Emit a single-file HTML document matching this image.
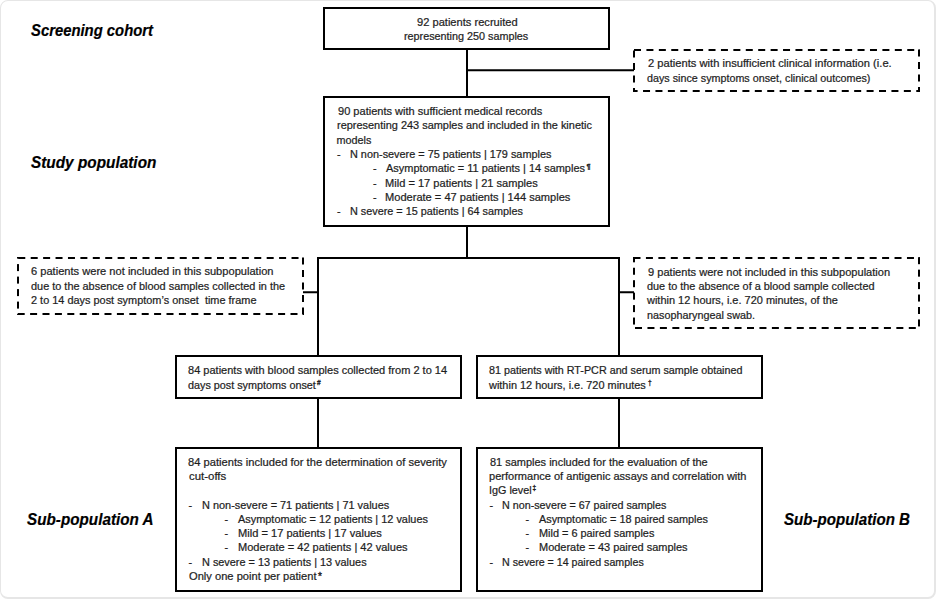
<!DOCTYPE html>
<html><head><meta charset="utf-8">
<style>
html,body{margin:0;padding:0;background:#fff;}
body{width:936px;height:599px;position:relative;overflow:hidden;font-family:"Liberation Sans",sans-serif;}
.frame{position:absolute;left:0;top:0;width:936px;height:599px;border-style:solid;border-color:#e6e6e6;border-width:1px 2px 2px 1px;border-radius:8px;box-sizing:border-box;}
svg{position:absolute;left:0;top:0;}
.t,.lb,.sp{position:absolute;white-space:pre;transform-origin:0 0;}
.t{font-size:10.8px;line-height:10.8px;color:#1e1e1e;-webkit-text-stroke:0.22px #1e1e1e;}
.lb{font-size:16.6px;line-height:16.6px;color:#000;font-weight:bold;font-style:italic;-webkit-text-stroke:0.2px #000;}
.sp{font-size:7.5px;line-height:7.5px;color:#1e1e1e;-webkit-text-stroke:0.35px #1e1e1e;}
</style></head><body>
<div class="frame"></div>
<svg width="936" height="599" viewBox="0 0 936 599">
<g fill="none" stroke="#000" stroke-width="2" shape-rendering="crispEdges">
<rect x="324" y="8" width="285" height="41"/>
<rect x="324" y="97" width="285" height="129"/>
<rect x="176" y="356" width="285" height="42"/>
<rect x="477" y="356" width="285" height="42"/>
<rect x="176" y="448" width="285" height="143"/>
<rect x="477" y="448" width="285" height="143"/>
<path d="M467 49V97M467 226V258M317 258H620M318 258V356M619 258V356M318 398V448M619 398V448"/>
</g>
<g fill="none" stroke="#000" stroke-width="1.9">
<path d="M467 70.3H634M303 292.2H318M619 292.2H634"/>
</g>
<g fill="#000">
<rect x="634.00" y="49" width="7.00" height="2"/>
<rect x="646.42" y="49" width="7.00" height="2"/>
<rect x="658.84" y="49" width="7.00" height="2"/>
<rect x="671.26" y="49" width="7.00" height="2"/>
<rect x="683.68" y="49" width="7.00" height="2"/>
<rect x="696.10" y="49" width="7.00" height="2"/>
<rect x="708.52" y="49" width="7.00" height="2"/>
<rect x="720.94" y="49" width="7.00" height="2"/>
<rect x="733.36" y="49" width="7.00" height="2"/>
<rect x="745.78" y="49" width="7.00" height="2"/>
<rect x="758.20" y="49" width="7.00" height="2"/>
<rect x="770.62" y="49" width="7.00" height="2"/>
<rect x="783.04" y="49" width="7.00" height="2"/>
<rect x="795.46" y="49" width="7.00" height="2"/>
<rect x="807.88" y="49" width="7.00" height="2"/>
<rect x="820.30" y="49" width="7.00" height="2"/>
<rect x="832.72" y="49" width="7.00" height="2"/>
<rect x="845.14" y="49" width="7.00" height="2"/>
<rect x="857.56" y="49" width="7.00" height="2"/>
<rect x="869.98" y="49" width="7.00" height="2"/>
<rect x="882.40" y="49" width="7.00" height="2"/>
<rect x="894.82" y="49" width="7.00" height="2"/>
<rect x="907.24" y="49" width="7.00" height="2"/>
<rect x="919.66" y="49" width="0.34" height="2"/>
<rect x="918" y="49.50" width="2" height="7.00"/>
<rect x="918" y="62.00" width="2" height="7.00"/>
<rect x="918" y="74.50" width="2" height="7.00"/>
<rect x="918" y="87.00" width="2" height="5.00"/>
<rect x="633.00" y="90" width="4.61" height="2"/>
<rect x="643.03" y="90" width="7.00" height="2"/>
<rect x="655.45" y="90" width="7.00" height="2"/>
<rect x="667.87" y="90" width="7.00" height="2"/>
<rect x="680.29" y="90" width="7.00" height="2"/>
<rect x="692.71" y="90" width="7.00" height="2"/>
<rect x="705.13" y="90" width="7.00" height="2"/>
<rect x="717.55" y="90" width="7.00" height="2"/>
<rect x="729.97" y="90" width="7.00" height="2"/>
<rect x="742.39" y="90" width="7.00" height="2"/>
<rect x="754.81" y="90" width="7.00" height="2"/>
<rect x="767.23" y="90" width="7.00" height="2"/>
<rect x="779.65" y="90" width="7.00" height="2"/>
<rect x="792.07" y="90" width="7.00" height="2"/>
<rect x="804.49" y="90" width="7.00" height="2"/>
<rect x="816.91" y="90" width="7.00" height="2"/>
<rect x="829.33" y="90" width="7.00" height="2"/>
<rect x="841.75" y="90" width="7.00" height="2"/>
<rect x="854.17" y="90" width="7.00" height="2"/>
<rect x="866.59" y="90" width="7.00" height="2"/>
<rect x="879.01" y="90" width="7.00" height="2"/>
<rect x="891.43" y="90" width="7.00" height="2"/>
<rect x="903.85" y="90" width="7.00" height="2"/>
<rect x="916.27" y="90" width="3.73" height="2"/>
<rect x="633" y="50.50" width="2" height="7.00"/>
<rect x="633" y="63.00" width="2" height="7.00"/>
<rect x="633" y="75.50" width="2" height="7.00"/>
<rect x="633" y="88.00" width="2" height="4.00"/>
<rect x="18.28" y="257" width="7.00" height="2"/>
<rect x="30.70" y="257" width="7.00" height="2"/>
<rect x="43.12" y="257" width="7.00" height="2"/>
<rect x="55.54" y="257" width="7.00" height="2"/>
<rect x="67.96" y="257" width="7.00" height="2"/>
<rect x="80.38" y="257" width="7.00" height="2"/>
<rect x="92.80" y="257" width="7.00" height="2"/>
<rect x="105.22" y="257" width="7.00" height="2"/>
<rect x="117.64" y="257" width="7.00" height="2"/>
<rect x="130.06" y="257" width="7.00" height="2"/>
<rect x="142.48" y="257" width="7.00" height="2"/>
<rect x="154.90" y="257" width="7.00" height="2"/>
<rect x="167.32" y="257" width="7.00" height="2"/>
<rect x="179.74" y="257" width="7.00" height="2"/>
<rect x="192.16" y="257" width="7.00" height="2"/>
<rect x="204.58" y="257" width="7.00" height="2"/>
<rect x="217.00" y="257" width="7.00" height="2"/>
<rect x="229.42" y="257" width="7.00" height="2"/>
<rect x="241.84" y="257" width="7.00" height="2"/>
<rect x="254.26" y="257" width="7.00" height="2"/>
<rect x="266.68" y="257" width="7.00" height="2"/>
<rect x="279.10" y="257" width="7.00" height="2"/>
<rect x="291.52" y="257" width="7.00" height="2"/>
<rect x="302" y="257.50" width="2" height="7.00"/>
<rect x="302" y="270.00" width="2" height="7.00"/>
<rect x="302" y="282.50" width="2" height="7.00"/>
<rect x="302" y="295.00" width="2" height="7.00"/>
<rect x="302" y="307.50" width="2" height="7.00"/>
<rect x="17.70" y="313" width="7.00" height="2"/>
<rect x="30.10" y="313" width="7.00" height="2"/>
<rect x="42.50" y="313" width="7.00" height="2"/>
<rect x="54.90" y="313" width="7.00" height="2"/>
<rect x="67.30" y="313" width="7.00" height="2"/>
<rect x="79.70" y="313" width="7.00" height="2"/>
<rect x="92.10" y="313" width="7.00" height="2"/>
<rect x="104.50" y="313" width="7.00" height="2"/>
<rect x="116.90" y="313" width="7.00" height="2"/>
<rect x="129.30" y="313" width="7.00" height="2"/>
<rect x="141.70" y="313" width="7.00" height="2"/>
<rect x="154.10" y="313" width="7.00" height="2"/>
<rect x="166.50" y="313" width="7.00" height="2"/>
<rect x="178.90" y="313" width="7.00" height="2"/>
<rect x="191.30" y="313" width="7.00" height="2"/>
<rect x="203.70" y="313" width="7.00" height="2"/>
<rect x="216.10" y="313" width="7.00" height="2"/>
<rect x="228.50" y="313" width="7.00" height="2"/>
<rect x="240.90" y="313" width="7.00" height="2"/>
<rect x="253.30" y="313" width="7.00" height="2"/>
<rect x="265.70" y="313" width="7.00" height="2"/>
<rect x="278.10" y="313" width="7.00" height="2"/>
<rect x="290.50" y="313" width="7.00" height="2"/>
<rect x="302.90" y="313" width="1.10" height="2"/>
<rect x="17" y="257.00" width="2" height="1.60"/>
<rect x="17" y="264.10" width="2" height="7.00"/>
<rect x="17" y="276.60" width="2" height="7.00"/>
<rect x="17" y="289.10" width="2" height="7.00"/>
<rect x="17" y="301.60" width="2" height="7.00"/>
<rect x="17" y="314.10" width="2" height="0.90"/>
<rect x="633.50" y="257" width="7.00" height="2"/>
<rect x="645.93" y="257" width="7.00" height="2"/>
<rect x="658.36" y="257" width="7.00" height="2"/>
<rect x="670.79" y="257" width="7.00" height="2"/>
<rect x="683.22" y="257" width="7.00" height="2"/>
<rect x="695.65" y="257" width="7.00" height="2"/>
<rect x="708.08" y="257" width="7.00" height="2"/>
<rect x="720.51" y="257" width="7.00" height="2"/>
<rect x="732.94" y="257" width="7.00" height="2"/>
<rect x="745.37" y="257" width="7.00" height="2"/>
<rect x="757.80" y="257" width="7.00" height="2"/>
<rect x="770.23" y="257" width="7.00" height="2"/>
<rect x="782.66" y="257" width="7.00" height="2"/>
<rect x="795.09" y="257" width="7.00" height="2"/>
<rect x="807.52" y="257" width="7.00" height="2"/>
<rect x="819.95" y="257" width="7.00" height="2"/>
<rect x="832.38" y="257" width="7.00" height="2"/>
<rect x="844.81" y="257" width="7.00" height="2"/>
<rect x="857.24" y="257" width="7.00" height="2"/>
<rect x="869.67" y="257" width="7.00" height="2"/>
<rect x="882.10" y="257" width="7.00" height="2"/>
<rect x="894.53" y="257" width="7.00" height="2"/>
<rect x="906.96" y="257" width="7.00" height="2"/>
<rect x="919.39" y="257" width="0.61" height="2"/>
<rect x="918" y="257.20" width="2" height="7.00"/>
<rect x="918" y="269.65" width="2" height="7.00"/>
<rect x="918" y="282.10" width="2" height="7.00"/>
<rect x="918" y="294.55" width="2" height="7.00"/>
<rect x="918" y="307.00" width="2" height="7.00"/>
<rect x="918" y="319.45" width="2" height="7.00"/>
<rect x="635.00" y="327" width="7.00" height="2"/>
<rect x="647.45" y="327" width="7.00" height="2"/>
<rect x="659.89" y="327" width="7.00" height="2"/>
<rect x="672.34" y="327" width="7.00" height="2"/>
<rect x="684.78" y="327" width="7.00" height="2"/>
<rect x="697.23" y="327" width="7.00" height="2"/>
<rect x="709.67" y="327" width="7.00" height="2"/>
<rect x="722.12" y="327" width="7.00" height="2"/>
<rect x="734.56" y="327" width="7.00" height="2"/>
<rect x="747.00" y="327" width="7.00" height="2"/>
<rect x="759.45" y="327" width="7.00" height="2"/>
<rect x="771.89" y="327" width="7.00" height="2"/>
<rect x="784.34" y="327" width="7.00" height="2"/>
<rect x="796.78" y="327" width="7.00" height="2"/>
<rect x="809.23" y="327" width="7.00" height="2"/>
<rect x="821.67" y="327" width="7.00" height="2"/>
<rect x="834.12" y="327" width="7.00" height="2"/>
<rect x="846.57" y="327" width="7.00" height="2"/>
<rect x="859.01" y="327" width="7.00" height="2"/>
<rect x="871.46" y="327" width="7.00" height="2"/>
<rect x="883.90" y="327" width="7.00" height="2"/>
<rect x="896.35" y="327" width="7.00" height="2"/>
<rect x="908.79" y="327" width="7.00" height="2"/>
<rect x="633" y="257.00" width="2" height="5.30"/>
<rect x="633" y="267.75" width="2" height="7.00"/>
<rect x="633" y="280.20" width="2" height="7.00"/>
<rect x="633" y="292.65" width="2" height="7.00"/>
<rect x="633" y="305.10" width="2" height="7.00"/>
<rect x="633" y="317.55" width="2" height="7.00"/>
</g>
</svg>
<div class="lb" id="t0" style="left:30.86px;top:22.95px;transform:scaleX(0.8942)">Screening cohort</div>
<div class="lb" id="t1" style="left:30.84px;top:154.55px;transform:scaleX(0.9254)">Study population</div>
<div class="lb" id="t2" style="left:26.54px;top:512.15px;transform:scaleX(0.9192)">Sub-population A</div>
<div class="lb" id="t3" style="left:783.62px;top:512.15px;transform:scaleX(0.9116)">Sub-population B</div>
<div class="t" id="t4" style="left:416.95px;top:16.56px;transform:scaleX(1.0295)">92 patients recruited</div>
<div class="t" id="t5" style="left:404.48px;top:31.06px;transform:scaleX(1.0001)">representing 250 samples</div>
<div class="t" id="t6" style="left:647.96px;top:58.36px;transform:scaleX(1.0342)">2 patients with insufficient clinical information (i.e.</div>
<div class="t" id="t7" style="left:647.00px;top:72.66px;transform:scaleX(0.9956)">days since symptoms onset, clinical outcomes)</div>
<div class="t" id="t8" style="left:337.59px;top:105.96px;transform:scaleX(1.0232)">90 patients with sufficient medical records</div>
<div class="t" id="t9" style="left:336.59px;top:120.32px;transform:scaleX(1.0136)">representing 243 samples and included in the kinetic</div>
<div class="t" id="t10" style="left:336.60px;top:134.68px">models</div>
<div class="t" id="t11" style="left:337.00px;top:149.04px">-</div>
<div class="t" id="t12" style="left:349.80px;top:149.04px;transform:scaleX(1.0071)">N non-severe = 75 patients | 179 samples</div>
<div class="t" id="t13" style="left:373.00px;top:163.40px">-</div>
<div class="t" id="t14" style="left:386.41px;top:163.40px;transform:scaleX(1.0143)">Asymptomatic = 11 patients | 14 samples</div>
<div class="sp" id="t15" style="left:586.50px;top:162.99px">¶</div>
<div class="t" id="t16" style="left:373.00px;top:177.76px">-</div>
<div class="t" id="t17" style="left:385.38px;top:177.76px;transform:scaleX(1.0257)">Mild = 17 patients | 21 samples</div>
<div class="t" id="t18" style="left:373.00px;top:192.12px">-</div>
<div class="t" id="t19" style="left:385.38px;top:192.12px;transform:scaleX(1.0256)">Moderate = 47 patients | 144 samples</div>
<div class="t" id="t20" style="left:337.00px;top:206.48px">-</div>
<div class="t" id="t21" style="left:349.80px;top:206.48px;transform:scaleX(1.0035)">N severe = 15 patients | 64 samples</div>
<div class="t" id="t22" style="left:30.78px;top:266.36px;transform:scaleX(1.0281)">6 patients were not included in this subpopulation</div>
<div class="t" id="t23" style="left:30.79px;top:280.76px;transform:scaleX(1.0104)">due to the absence of blood samples collected in the</div>
<div class="t" id="t24" style="left:30.79px;top:295.06px;transform:scaleX(1.0109)">2 to 14 days post symptom’s onset  time frame</div>
<div class="t" id="t25" style="left:647.97px;top:266.66px;transform:scaleX(1.0265)">9 patients were not included in this subpopulation</div>
<div class="t" id="t26" style="left:647.00px;top:280.96px;transform:scaleX(1.0080)">due to the absence of a blood sample collected</div>
<div class="t" id="t27" style="left:647.00px;top:295.26px;transform:scaleX(1.0161)">within 12 hours, i.e. 720 minutes, of the</div>
<div class="t" id="t28" style="left:647.00px;top:309.56px">nasopharyngeal swab.</div>
<div class="t" id="t29" style="left:188.00px;top:365.16px;transform:scaleX(1.0205)">84 patients with blood samples collected from 2 to 14</div>
<div class="t" id="t30" style="left:188.00px;top:380.16px">days post symptoms onset</div>
<div class="sp" id="t31" style="left:317.00px;top:380.40px;font-size:6.5px;line-height:6.5px">#</div>
<div class="t" id="t32" style="left:489.00px;top:365.16px;transform:scaleX(0.9969)">81 patients with RT-PCR and serum sample obtained</div>
<div class="t" id="t33" style="left:489.00px;top:380.16px;transform:scaleX(1.0129)">within 12 hours, i.e. 720 minutes</div>
<div class="sp" id="t34" style="left:648.00px;top:379.80px;font-size:6.5px;line-height:6.5px">†</div>
<div class="t" id="t35" style="left:187.99px;top:456.86px;transform:scaleX(1.0344)">84 patients included for the determination of severity</div>
<div class="t" id="t36" style="left:188.96px;top:471.13px;transform:scaleX(1.0579)">cut-offs</div>
<div class="t" id="t37" style="left:188.50px;top:499.67px">-</div>
<div class="t" id="t38" style="left:201.99px;top:499.67px;transform:scaleX(1.0120)">N non-severe = 71 patients | 71 values</div>
<div class="t" id="t39" style="left:224.50px;top:513.94px">-</div>
<div class="t" id="t40" style="left:238.00px;top:513.94px;transform:scaleX(1.0106)">Asymptomatic = 12 patients | 12 values</div>
<div class="t" id="t41" style="left:224.50px;top:528.21px">-</div>
<div class="t" id="t42" style="left:237.97px;top:528.21px;transform:scaleX(1.0274)">Mild = 17 patients | 17 values</div>
<div class="t" id="t43" style="left:224.50px;top:542.48px">-</div>
<div class="t" id="t44" style="left:237.98px;top:542.48px;transform:scaleX(1.0232)">Moderate = 42 patients | 42 values</div>
<div class="t" id="t45" style="left:188.50px;top:556.75px">-</div>
<div class="t" id="t46" style="left:201.99px;top:556.75px;transform:scaleX(1.0074)">N severe = 13 patients | 13 values</div>
<div class="t" id="t47" style="left:188.94px;top:571.02px;transform:scaleX(1.0311)">Only one point per patient</div>
<div class="sp" id="t48" style="left:318.00px;top:571.80px;font-size:10px;line-height:10px">*</div>
<div class="t" id="t49" style="left:489.79px;top:456.86px;transform:scaleX(1.0160)">81 samples included for the evaluation of the</div>
<div class="t" id="t50" style="left:488.78px;top:471.13px;transform:scaleX(1.0216)">performance of antigenic assays and correlation with</div>
<div class="t" id="t51" style="left:488.80px;top:485.40px;transform:scaleX(1.0007)">IgG level</div>
<div class="sp" id="t52" style="left:532.50px;top:484.94px;font-size:6.5px;line-height:6.5px">‡</div>
<div class="t" id="t53" style="left:489.50px;top:499.67px">-</div>
<div class="t" id="t54" style="left:502.01px;top:499.67px;transform:scaleX(0.9939)">N non-severe = 67 paired samples</div>
<div class="t" id="t55" style="left:525.50px;top:513.94px">-</div>
<div class="t" id="t56" style="left:539.00px;top:513.94px;transform:scaleX(1.0036)">Asymptomatic = 18 paired samples</div>
<div class="t" id="t57" style="left:525.50px;top:528.21px">-</div>
<div class="t" id="t58" style="left:538.99px;top:528.21px;transform:scaleX(1.0088)">Mild = 6 paired samples</div>
<div class="t" id="t59" style="left:525.50px;top:542.48px">-</div>
<div class="t" id="t60" style="left:538.99px;top:542.48px;transform:scaleX(1.0166)">Moderate = 43 paired samples</div>
<div class="t" id="t61" style="left:489.50px;top:556.75px">-</div>
<div class="t" id="t62" style="left:502.01px;top:556.75px;transform:scaleX(0.9860)">N severe = 14 paired samples</div>
</body></html>
